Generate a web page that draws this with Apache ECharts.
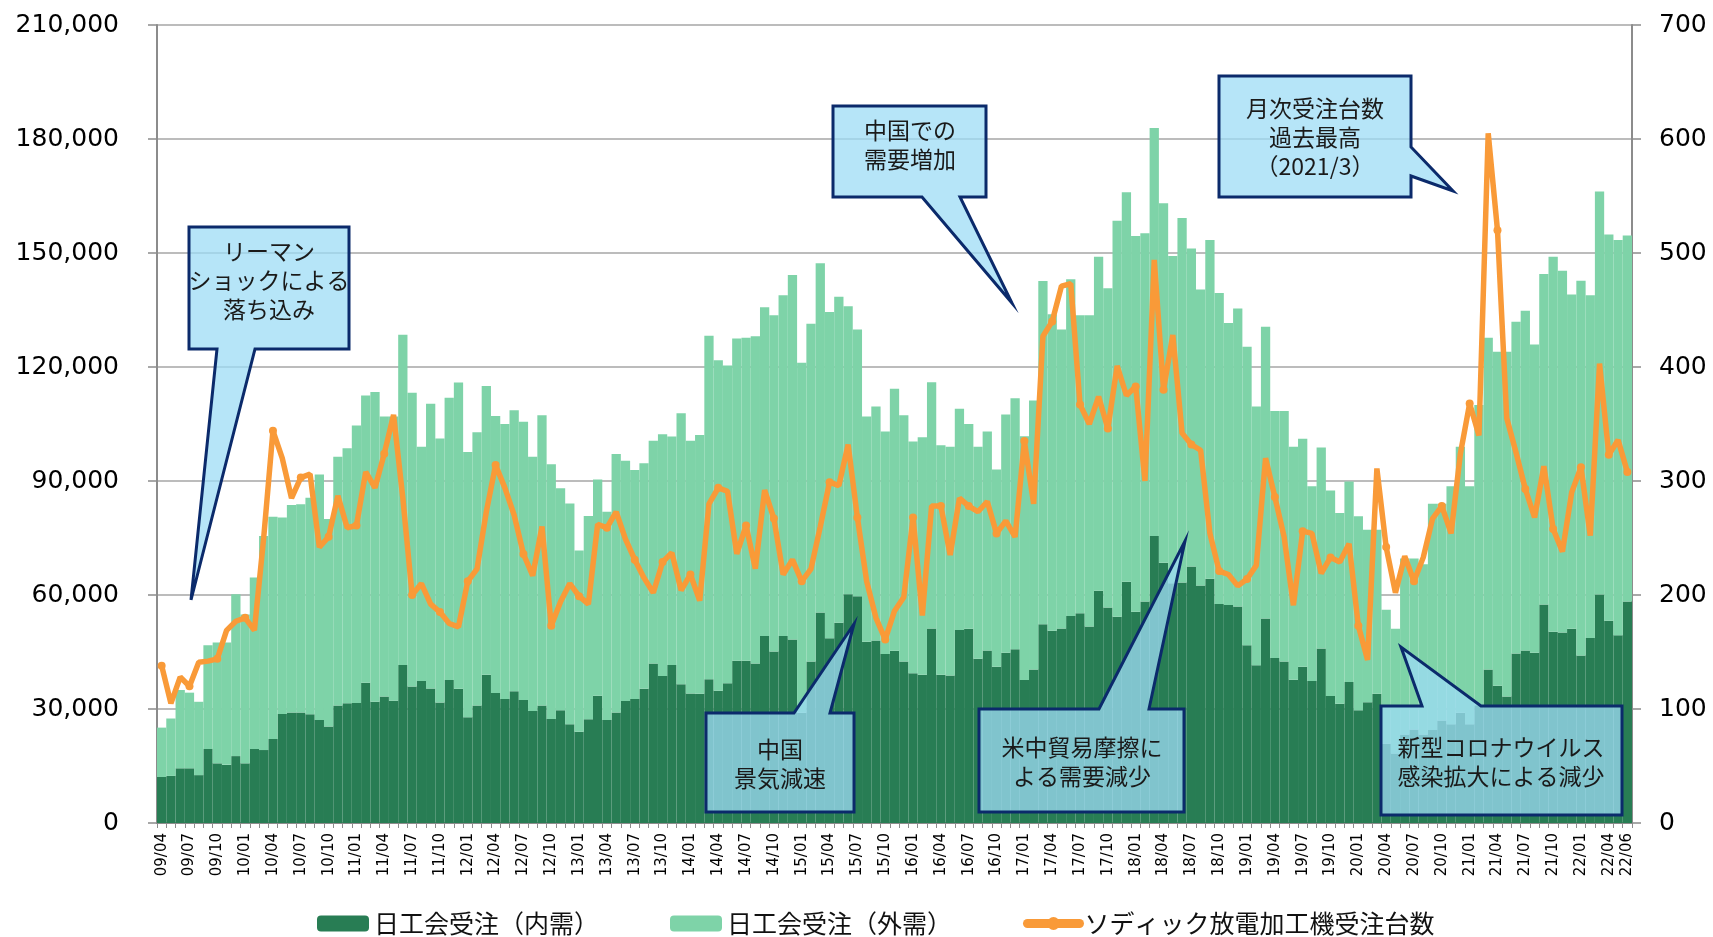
<!DOCTYPE html>
<html><head><meta charset="utf-8">
<script src="https://cdn.jsdelivr.net/npm/echarts@6/dist/echarts.min.js"></script>
<style>html,body{margin:0;padding:0;background:#fff}#c{width:1713px;height:937px}</style>
</head><body><div id="c"></div>
<script>
const categories = [
"09/04","09/05","09/06","09/07","09/08","09/09","09/10","09/11","09/12",
"10/01","10/02","10/03","10/04","10/05","10/06","10/07","10/08","10/09","10/10","10/11","10/12",
"11/01","11/02","11/03","11/04","11/05","11/06","11/07","11/08","11/09","11/10","11/11","11/12",
"12/01","12/02","12/03","12/04","12/05","12/06","12/07","12/08","12/09","12/10","12/11","12/12",
"13/01","13/02","13/03","13/04","13/05","13/06","13/07","13/08","13/09","13/10","13/11","13/12",
"14/01","14/02","14/03","14/04","14/05","14/06","14/07","14/08","14/09","14/10","14/11","14/12",
"15/01","15/02","15/03","15/04","15/05","15/06","15/07","15/08","15/09","15/10","15/11","15/12",
"16/01","16/02","16/03","16/04","16/05","16/06","16/07","16/08","16/09","16/10","16/11","16/12",
"17/01","17/02","17/03","17/04","17/05","17/06","17/07","17/08","17/09","17/10","17/11","17/12",
"18/01","18/02","18/03","18/04","18/05","18/06","18/07","18/08","18/09","18/10","18/11","18/12",
"19/01","19/02","19/03","19/04","19/05","19/06","19/07","19/08","19/09","19/10","19/11","19/12",
"20/01","20/02","20/03","20/04","20/05","20/06","20/07","20/08","20/09","20/10","20/11","20/12",
"21/01","21/02","21/03","21/04","21/05","21/06","21/07","21/08","21/09","21/10","21/11","21/12",
"22/01","22/02","22/03","22/04","22/05","22/06"];

// 日工会受注（内需）
const domestic = [
12100,12400,14400,14400,12600,19500,15700,15300,17600,
15700,19500,19200,22100,28700,29100,29100,28600,27100,25400,30900,31500,
31600,36900,31900,33300,32200,41600,35900,37400,35400,31700,37600,35300,
27800,30900,39000,34200,32600,34700,32400,29500,30900,27400,29700,26000,
24000,27300,33500,27100,29100,32100,32600,35300,42000,38700,41600,36500,
34100,34000,37800,34800,36800,42700,42700,42000,49200,45100,49200,48300,
29000,42500,55400,48600,52700,60200,59700,47700,48000,44500,45300,42500,
39400,39000,51200,39000,38800,50800,51100,43200,45400,41100,44800,45700,
37600,40400,52300,50600,51200,54500,55200,51700,61100,56700,54300,63500,
55600,58300,75500,68500,63100,63300,67500,62500,64300,57600,57400,57000,
46800,41500,53800,43400,42500,37700,41100,37400,45900,33400,31400,37100,
29700,31800,34000,20900,18300,23300,24600,23300,24500,27000,26000,29000,
26000,31000,40400,36100,33300,44600,45400,44800,57500,50300,50100,51100,
44100,48700,60100,53200,49400,58300];

// 日工会受注 合計（内需＋外需）: top of the light bar
const totalOrders = [
25100,27500,35000,34300,31900,46800,47500,47500,60200,
54900,64600,75500,80600,80400,83700,83900,85600,91700,80000,96400,98600,
104600,112500,113400,107000,107000,128500,113200,99000,110300,101200,111900,115900,
97600,102800,115000,107100,105000,108600,105600,96400,107300,94400,88100,84100,
71700,80800,90400,81900,97100,95300,92900,94700,100600,102300,101700,107800,
100600,102100,128200,121800,120400,127500,127700,128100,135700,133600,138900,144200,
121100,131400,147300,134500,138500,136000,129900,107000,109600,103000,114300,107300,
100400,101500,116000,99400,99000,109000,105000,99000,103000,93000,107500,111800,
101800,111200,142600,133900,129900,143100,133600,133600,149000,140700,158500,166000,
154500,155200,182900,163100,149200,159200,151200,140400,153400,139500,131600,135400,
125300,109600,130600,108400,108400,99000,101100,88600,98800,87500,81600,89900,
80700,77200,77200,56100,51100,69600,69600,68100,84000,84000,88600,99000,
88600,110000,127700,124000,124000,131900,134800,125900,144500,149000,145300,139100,
142700,138900,166200,154900,153400,154600];

// ソディック放電加工機受注台数
const sodick = [
138,105,128,120,141,142,144,169,177,
180,169,250,344,320,285,303,306,242,251,287,259,
261,308,294,324,358,285,200,210,192,185,175,172,
212,223,273,314,294,270,236,217,260,173,194,210,
199,192,262,259,273,249,231,215,202,229,237,204,
218,195,280,294,291,236,261,223,292,267,218,231,
212,223,260,299,296,332,268,212,180,161,186,198,
268,182,278,278,235,285,278,273,282,254,265,251,
335,280,427,440,471,473,367,350,374,346,401,375,
383,300,494,380,428,342,332,327,254,221,218,208,
214,226,320,286,251,191,256,254,219,233,229,245,
173,143,311,242,202,234,212,233,267,278,254,324,
368,340,605,520,355,325,293,268,313,258,238,290,
312,252,403,323,336,308];

const foreign = totalOrders.map((t, i) => t - domestic[i]);

const seriesNames = ['日工会受注（内需）', '日工会受注（外需）', 'ソディック放電加工機受注台数'];

const callouts = [
  {lines: 'リーマン\nショックによる\n落ち込み', cx: 269, cy: 280,
   pts: [[189,227],[349,227],[349,349],[255,349],[191,600],[217,349],[189,349]]},
  {lines: '中国での\n需要増加', cx: 910, cy: 145,
   pts: [[833,106],[986,106],[986,197],[960,197],[1012,303],[922,197],[833,197]]},
  {lines: '月次受注台数\n過去最高\n（2021/3）', cx: 1315, cy: 137,
   pts: [[1219,76],[1411,76],[1411,147],[1453,191],[1411,176],[1411,197],[1219,197]]},
  {lines: '中国\n景気減速', cx: 780, cy: 764,
   pts: [[706,713],[794,713],[854,624],[830,713],[854,713],[854,812],[706,812]]},
  {lines: '米中貿易摩擦に\nよる需要減少', cx: 1082, cy: 762,
   pts: [[979,709],[1099,709],[1185,541],[1149,709],[1184,709],[1184,812],[979,812]]},
  {lines: '新型コロナウイルス\n感染拡大による減少', cx: 1501, cy: 762,
   pts: [[1381,706],[1422,706],[1401,647],[1481,706],[1622,706],[1622,815],[1381,815]]}
];

const graphicEls = [];
callouts.forEach(c => {
  graphicEls.push({type: 'polygon', z: 100, shape: {points: c.pts},
    style: {fill: 'rgba(157,220,246,0.75)', stroke: '#0B2A6B', lineWidth: 3, lineJoin: 'miter'}});
  graphicEls.push({type: 'text', z: 101, x: c.cx, y: c.cy,
    style: {text: c.lines, textAlign: 'center', textVerticalAlign: 'middle',
      font: '23px "Noto Sans CJK JP"', lineHeight: 29, fill: '#1a1a1a'}});
});

const chart = echarts.init(document.getElementById('c'), null, {renderer: 'canvas'});
const axisGrey = '#8C8C8C';
chart.setOption({
  animation: false,
  backgroundColor: '#fff',
  grid: {left: 157, right: 81, top: 25, bottom: 114},
  legend: {
    data: seriesNames, left: 317, top: 911, padding: 0, itemWidth: 52, itemHeight: 16, itemGap: 71,
    lineStyle: {width: 9, cap: 'round'},
    textStyle: {fontSize: 25, fontFamily: '"Noto Sans CJK JP"', color: '#111'}
  },
  xAxis: {
    type: 'category', data: categories, boundaryGap: true,
    axisLine: {lineStyle: {color: axisGrey, width: 2}},
    axisTick: {show: true, interval: 0, length: 5, lineStyle: {color: axisGrey, width: 1}},
    axisLabel: {
      rotate: 90, margin: 10, fontSize: 15, fontFamily: 'DejaVu Sans',
      interval: (idx) => idx % 3 === 0 || idx === categories.length - 1,
      color: (v, idx) => (idx === categories.length - 1 ? '#A0A0A0' : '#000')
    },
    splitLine: {show: false}
  },
  yAxis: [
    {type: 'value', min: 0, max: 210000, interval: 30000, position: 'left',
     axisLine: {show: true, lineStyle: {color: axisGrey, width: 2}},
     axisTick: {show: true, length: 9, lineStyle: {color: axisGrey, width: 1.5}},
     splitLine: {show: true, lineStyle: {color: '#A6A6A6', width: 1.5}},
     axisLabel: {fontSize: 25, fontFamily: 'DejaVu Sans', color: '#000', margin: 38,
       formatter: v => v.toLocaleString('en-US')}},
    {type: 'value', min: 0, max: 700, interval: 100, position: 'right',
     axisLine: {show: true, lineStyle: {color: axisGrey, width: 2}},
     axisTick: {show: true, length: 9, lineStyle: {color: axisGrey, width: 1.5}},
     splitLine: {show: false},
     axisLabel: {fontSize: 25, fontFamily: 'DejaVu Sans', color: '#000', margin: 27}}
  ],
  series: [
    {name: seriesNames[0], type: 'bar', stack: 'orders', data: domestic,
     barCategoryGap: '0%', itemStyle: {color: '#287D54'}},
    {name: seriesNames[1], type: 'bar', stack: 'orders', data: foreign,
     barCategoryGap: '0%', itemStyle: {color: '#7ED3A8'}},
    {name: seriesNames[2], type: 'line', yAxisIndex: 1, data: sodick, z: 10,
     symbol: 'circle', symbolSize: 8, showSymbol: true,
     lineStyle: {color: '#F99A38', width: 5.5}, itemStyle: {color: '#F99A38'}}
  ],
  graphic: {elements: graphicEls}
});
</script></body></html>
